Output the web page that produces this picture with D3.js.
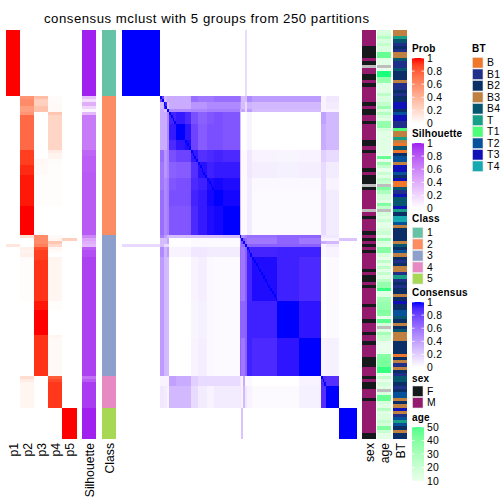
<!DOCTYPE html>
<html><head><meta charset="utf-8">
<script src="https://cdn.jsdelivr.net/npm/d3@7"></script>
<style>html,body{margin:0;padding:0;background:#fff}svg{display:block}text{font-family:"Liberation Sans",Arial,sans-serif;fill:#000}</style>
</head><body><div id="c"></div>
<script>
const title = "consensus mclust with 5 groups from 250 partitions";
const classColors = ["#66c2a5","#fc8d62","#8da0cb","#e78ac3","#a6d854"];
const classCounts = [21,44,45,10,10];
const sexLevels = ["F","M"];
const sexColors = ["#15191c","#941a6e"];
const btLevels = ["B","B1","B2","B3","B4","T","T1","T2","T3","T4"];
const btColors = ["#f0762a","#1f2f8a","#0a2f66","#c08040","#05566e","#17a085","#4dff78","#05529a","#1010b8","#14aab0"];
const probTicks = [1,0.8,0.6,0.4,0.2,0];
const ageTicks = [50,40,30,20,10];

// per-row annotations (N = missing)
const sexRows = ("MMMMMFFFFM"+"FNMMFFMFMM"+"MMMFMFFMMF"+"MMMMMFFMFM"+"MMMMFMFFFN"+"FMMMMMMNMF"+"MMMMFMFMFM"+"FMMMMMFMFF"+"MFMMMMMFMM"+"MMFMMMFMMF"+"MMMMFFFMMM"+"FMFFMMMFMM"+"MMMMMMMMFF").split("");
const btRows = ("3354121334"+"1142223112"+"1228827881"+"1633530402"+"7738872800"+"4184448529"+"9732222342"+"7321233151"+"2122328227"+"7423243332"+"2220231321"+"4421277323"+"8317572322").split("").map(Number);
const ageRows = [15,17,27,15,22,15,15,46,46,13,
13,null,10,55,55,36,36,13,13,13,
24,15,15,22,34,15,27,17,13,36,
36,17,13,13,13,13,13,13,13,10,
46,10,34,22,10,20,13,24,20,null,
41,29,17,17,13,41,22,null,17,13,
20,12,12,17,20,10,36,15,13,39,
39,15,10,24,13,24,12,22,13,24,
36,36,53,13,13,31,34,36,36,41,
39,10,48,17,null,13,31,22,20,10,
10,10,10,39,41,43,43,53,53,10,
22,10,17,13,null,15,46,46,17,13,
27,13,15,15,22,17,41,20,12,12];

// membership probabilities, as runs of rows
const probCounts = [21, 1,1,1,2,1,11,1,2,2,3,10,9, 1,1,1,1,1,1,1,1,13,3,8,1,12, 1,1,8, 10];
const p1 = [1, 0,0,0,0,0,0,0,0,0,0,0,0, 0,0,0,.13,0,0,0,0,0,0,0,0,0, 0,0,0, 0];
const p2 = [0, .55,.6,.6,.5,.55,.75,.9,.9,.9,.95,.98,1, .15,0,0,0,.08,.06,.08,.02,.01,0,0,0,0, .18,.1,.05, 0];
const p3 = [0, .35,.25,.25,.32,0,0,0,0,.04,.03,.01,0, .6,.6,.6,.65,.85,.9,.9,.9,.93,.98,1,.93,.93, 0,0,0, 0];
const p4 = [0, .02,.02,.03,.03,.3,.22,.1,.06,.02,.01,.01,0, .03,.05,.3,.2,.05,.02,0,.06,.05,.01,0,.05,.03, .8,.87,.92, 0];
const p5 = [0, 0,0,0,0,0,0,0,0,0,0,0,0, 0,.25,0,0,0,0,0,0,0,0,0,0,0, 0,0,0, 1];

const silCounts = [21, 1,1,1,1,1,1,11,2,5,20, 1,1,1,1,1,2,38, 1,1,8, 10];
const silVals = [1, .3,.15,.4,.2,.05,.35,.65,.75,.78,.8, .6,.45,.4,.35,.8,.85,.9, .7,.8,.92, 1];

// consensus blocks: block sizes and lower-triangular percentages
const blockSizes = [21, 2,2,1,4,5,3,4,5,4,5,9, 1,1,1,1,3,14,12,12, 3,7, 10];
const consensusRows = [
[100],
[0,80],
[0,30,92],
[0,35,25,100],
[0,35,35,50,92],
[0,35,35,50,95,100],
[0,35,35,50,90,96,98],
[0,62,45,52,75,80,80,95],
[0,58,45,52,68,70,70,88,97],
[0,58,50,55,72,75,75,90,93,98],
[0,62,50,55,75,75,75,92,95,99,100],
[0,62,50,55,72,72,72,90,95,98,99,100],
[0,55,42,30,28,28,28,28,28,28,28,30,100],
[0,28,28,38,0,0,0,2,2,2,2,2,50,100],
[0,28,28,38,0,0,0,2,2,2,2,2,50,75,100],
[15,28,15,15,1,1,1,2,2,2,2,2,55,65,65,100],
[0,50,32,42,5,5,5,10,10,8,8,8,62,58,58,68,92],
[0,42,30,28,0,0,0,5,7,3,2,2,62,58,58,68,92,98],
[0,42,30,28,0,0,0,4,6,3,2,2,66,66,66,68,93,93,100],
[0,42,30,28,0,0,0,5,7,3,2,2,66,58,58,68,93,90,96,100],
[0,5,5,5,40,35,35,20,15,15,15,15,10,5,35,3,3,0,0,5,90],
[0,10,8,5,30,30,30,15,8,5,8,8,10,5,30,10,5,2,2,6,88,100],
[0,0,0,0,0,0,0,0,0,0,0,0,0,25,0,0,0,0,0,0,0,0,100]
];

const W = 504, H = 504, TOP = 30, BOTTOM = 439;
const svg = d3.select("#c").append("svg").attr("width",W).attr("height",H).attr("viewBox",`0 0 ${W} ${H}`);
const lab = (a,b)=>d3.interpolateLab(a,b);
const redScale = d3.scaleSequential(lab("#ffffff","#ff0000")).domain([0,1]);
const purpleScale = d3.scaleSequential(lab("#ffffff","#a020f0")).domain([0,1]);
const blueScale = d3.scaleSequential(lab("#ffffff","#0000ff")).domain([0,1]);
const ageScale = d3.scaleSequential(lab("#ffffff","#1aff7c")).domain([2,55]);

const expand = (counts, vals) => counts.flatMap((n,i)=>d3.range(n).map(()=>vals[i]));
const nRows = d3.sum(classCounts);
const rowIdx = d3.range(nRows);
const y = d3.scaleBand().domain(rowIdx).range([TOP,BOTTOM]);
const rowClass = classCounts.flatMap((n,i)=>d3.range(n).map(()=>i));

function column(x0,x1,values,color,name){
  const g = svg.append("g").attr("class",name).attr("shape-rendering","crispEdges");
  g.selectAll("rect").data(values).join("rect")
    .attr("x",x0).attr("width",x1-x0)
    .attr("y",(d,i)=>y(i)).attr("height",y.bandwidth())
    .attr("fill",(d,i)=>color(d,i));
}
const probCols = [p1,p2,p3,p4,p5];
const probNames = ["p1","p2","p3","p4","p5"];
const px = d3.scaleBand().domain(probNames).range([6,76.5]);
probCols.forEach((p,i)=>column(px(probNames[i]),px(probNames[i])+px.bandwidth(),expand(probCounts,p),v=>redScale(v),probNames[i]));
column(82,96,expand(silCounts,silVals),v=>purpleScale(v),"sil");
column(102,116,rowClass,v=>classColors[v],"class");

// consensus heatmap
const blockOf = blockSizes.flatMap((n,i)=>d3.range(n).map(()=>i));
const cons = (a,b)=> a===b ? 1 : (blockOf[a]>=blockOf[b] ? consensusRows[blockOf[a]][blockOf[b]] : consensusRows[blockOf[b]][blockOf[a]])/100;
const x = d3.scaleBand().domain(rowIdx).range([122,357]);
const hm = svg.append("g").attr("shape-rendering","crispEdges");
rowIdx.forEach(r=>{
  hm.append("g").selectAll("rect").data(rowIdx).join("rect")
    .attr("x",c=>x(c)).attr("y",y(r)).attr("width",x.bandwidth()).attr("height",y.bandwidth())
    .attr("fill",c=>blueScale(cons(r,c)));
});

const NA = "#bebebe";
column(362,376,sexRows,v=>v==="N"?NA:sexColors[sexLevels.indexOf(v)],"sex");
column(377,391,ageRows,v=>v===null?NA:ageScale(v),"age");
column(393,407,btRows,v=>btColors[v],"bt");

// title and column labels
svg.append("text").attr("x",206.5).attr("y",23).attr("text-anchor","middle").attr("font-size",13.2).text(title).attr("textLength",325).attr("lengthAdjust","spacing");
const colLabels = [["p1",13],["p2",27],["p3",41],["p4",55],["p5",69],["Silhouette",89],["Class",109],["sex",369],["age",384],["BT",400]];
colLabels.forEach(([t,cx])=>{
  svg.append("text").attr("transform",`translate(${cx+4.5},443) rotate(-90)`).attr("text-anchor","end").attr("font-size",12.2).text(t);
});

// legends
function legendTitle(t,tx,ty){svg.append("text").attr("x",tx).attr("y",ty).attr("font-size",10).attr("font-weight","bold").attr("letter-spacing",0.2).text(t);}
let gid=0;
function continuous(t,ty,yTop,yBottom,dom,ticks,color){
  legendTitle(t,412,ty);
  const s = d3.scaleLinear().domain(dom).range([yTop,yBottom]);
  const id="grad"+(gid++);
  const grad = svg.append("linearGradient").attr("id",id).attr("x1",0).attr("x2",0).attr("y1",0).attr("y2",1);
  d3.range(0,1.001,0.1).forEach(f=>grad.append("stop").attr("offset",f).attr("stop-color",color(dom[0]+(dom[1]-dom[0])*f)));
  svg.append("rect").attr("x",412).attr("y",yTop).attr("width",12).attr("height",yBottom-yTop).attr("fill",`url(#${id})`);
  const a = d3.axisRight(s).tickValues(ticks).tickSize(0).tickPadding(3).tickFormat(d=>String(d));
  const g = svg.append("g").attr("transform","translate(424,0)").call(a);
  g.select(".domain").remove();
  g.selectAll("text").attr("font-size",10.4).attr("letter-spacing",0.3).attr("x",3).style("font-family",'"Liberation Sans"');
  ticks.forEach(v=>{
    [[412,414.5],[421.5,424]].forEach(([a0,a1])=>svg.append("line").attr("x1",a0).attr("x2",a1).attr("y1",s(v)).attr("y2",s(v)).attr("stroke","#fff").attr("stroke-width",0.8));
  });
}
function discrete(t,tx,ty,levels,colors,yTop,step){
  legendTitle(t,tx,ty);
  levels.forEach((l,i)=>{
    svg.append("rect").attr("x",tx+0.5).attr("y",yTop+i*step+0.5).attr("width",10.5).attr("height",step-1).attr("fill",colors[i]).attr("stroke","#e4e4e4").attr("stroke-width",0.6);
    svg.append("text").attr("x",tx+15).attr("y",yTop+i*step+step/2+3.6).attr("font-size",10.4).attr("letter-spacing",0.3).text(l);
  });
}
continuous("Prob",52,58,123.5,[1,0],probTicks,v=>redScale(v));
continuous("Silhouette",137,143,208.5,[1,0],probTicks,v=>purpleScale(v));
discrete("Class",412,222,["1","2","3","4","5"],classColors,227,11.5);
continuous("Consensus",296,302,367.5,[1,0],probTicks,v=>blueScale(v));
discrete("sex",412,382,sexLevels,sexColors,385.5,11.5);
continuous("age",421,427,481,[50,10],ageTicks,v=>ageScale(v));
discrete("BT",472,52,btLevels,btColors,57,11.5);
</script></body></html>
